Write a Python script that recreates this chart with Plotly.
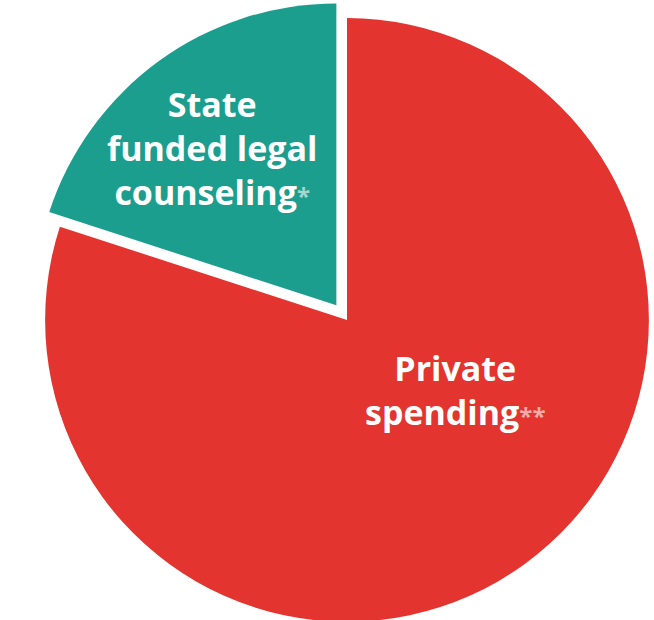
import plotly.graph_objects as go

# Data (clockwise from 12 o'clock)
categories = ["Private spending**", "State funded legal counseling*"]
shares = [80, 20]
colors = ["#E3342F", "#1B9E8E"]
star = "<span style='color:rgba(255,255,255,0.6);font-size:24px'>{}</span>"
label_lines = [["Private", "spending" + star.format("**")],
               ["State", "funded legal", "counseling" + star.format("*")]]
pulls = [0, 0.06]

W, H = 694, 640

fig = go.Figure(go.Pie(
    labels=categories,
    values=shares,
    marker=dict(colors=colors, line=dict(width=0)),
    sort=False,
    direction="clockwise",
    rotation=0,
    pull=pulls,
    textinfo="none",
    hoverinfo="label+percent",
    showlegend=False,
    domain=dict(x=[0, 1], y=[0, 1]),
))

label_pos = [(455 / W, 1 - 390 / H), (212 / W, 1 - 148 / H)]
for lines, (px, py) in zip(label_lines, label_pos):
    fig.add_annotation(
        x=px, y=py, xref="paper", yref="paper",
        text="<br>".join(lines), showarrow=False,
        font=dict(family="Open Sans", size=34, color="white", weight="bold"),
        align="center", xanchor="center", yanchor="middle",
    )

fig.update_layout(
    width=W, height=H,
    margin=dict(l=0, r=0, t=0, b=0),
    paper_bgcolor="white", plot_bgcolor="white",
)

fig.write_html("out.html")
